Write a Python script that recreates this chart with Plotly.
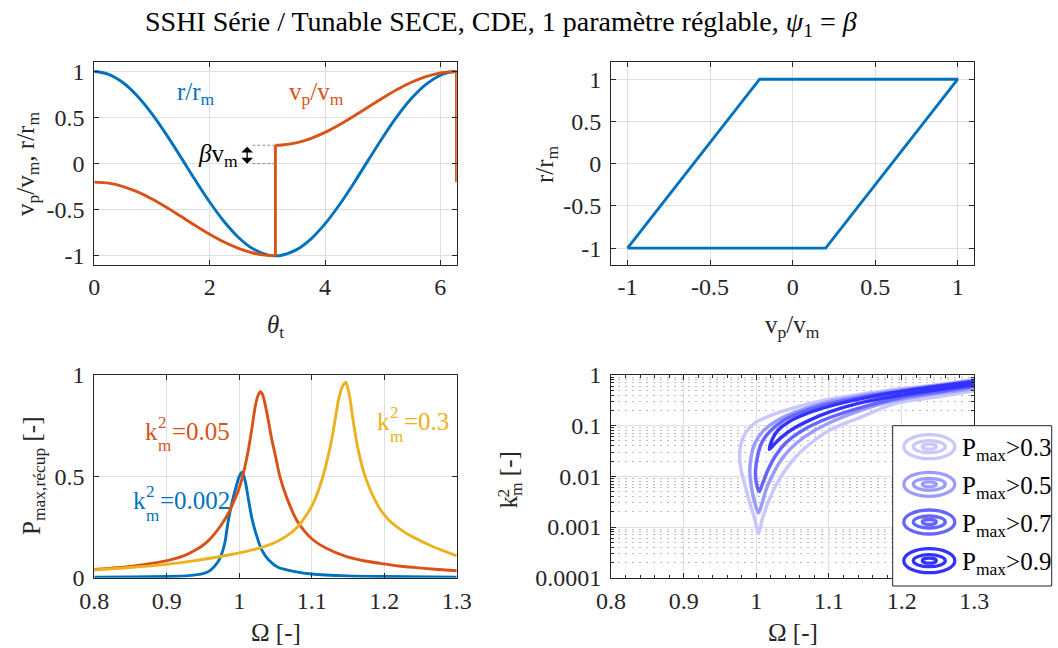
import plotly.graph_objects as go

# ---------------- data ----------------
theta_first = [0.0, 0.25, 0.5, 0.75, 1.0, 1.25, 1.5, 1.75, 2.0, 2.25, 2.5, 2.75, 3.0, 3.14]
r_first = [1.0, 0.969, 0.878, 0.732, 0.540, 0.315, 0.071, -0.178, -0.416, -0.628, -0.801, -0.924, -0.990, -1.0]
vp_first = [-0.2, -0.212, -0.249, -0.307, -0.384, -0.474, -0.572, -0.671, -0.766, -0.851, -0.920, -0.970, -0.996, -1.0]
theta_second = [3.14, 3.25, 3.5, 3.75, 4.0, 4.25, 4.5, 4.75, 5.0, 5.25, 5.5, 5.75, 6.0, 6.15, 6.28]
r_second = [-1.0, -0.994, -0.936, -0.821, -0.654, -0.446, -0.211, 0.038, 0.284, 0.512, 0.709, 0.861, 0.960, 0.991, 1.0]
vp_second = [0.2, 0.202, 0.226, 0.272, 0.339, 0.422, 0.516, 0.615, 0.713, 0.805, 0.883, 0.944, 0.984, 0.996, 1.0]
beta = 0.2
theta_switch = [3.14, 6.28]

vp_loop = [-1.0, -0.2, 1.0, 0.2, -1.0]
r_loop = [-1.0, 1.0, 1.0, -1.0, -1.0]

omega_k002 = [0.80, 0.85, 0.90, 0.93, 0.95, 0.96, 0.97, 0.975, 0.98, 0.985, 0.99, 0.995, 1.0, 1.004,
              1.008, 1.012, 1.017, 1.022, 1.031, 1.04, 1.054, 1.077, 1.10, 1.15, 1.20, 1.30]
p_k002 = [0.003, 0.004, 0.006, 0.010, 0.020, 0.036, 0.075, 0.11, 0.17, 0.285, 0.37, 0.44, 0.50, 0.52,
          0.48, 0.40, 0.30, 0.23, 0.137, 0.09, 0.05, 0.03, 0.018, 0.009, 0.006, 0.003]
omega_k005 = [0.80, 0.82, 0.847, 0.87, 0.893, 0.91, 0.925, 0.939, 0.95, 0.962, 0.975, 0.985, 0.993, 0.999,
              1.006, 1.0125, 1.018, 1.022, 1.026, 1.029, 1.032, 1.036, 1.04, 1.045, 1.05, 1.056, 1.065,
              1.079, 1.09, 1.102, 1.12, 1.148, 1.17, 1.194, 1.22, 1.24, 1.27, 1.30]
p_k005 = [0.041, 0.046, 0.054, 0.065, 0.079, 0.093, 0.11, 0.135, 0.16, 0.20, 0.26, 0.318, 0.38, 0.433,
          0.52, 0.63, 0.75, 0.844, 0.90, 0.918, 0.905, 0.85, 0.778, 0.68, 0.60, 0.50, 0.40,
          0.285, 0.23, 0.186, 0.145, 0.104, 0.085, 0.071, 0.058, 0.051, 0.042, 0.034]
omega_k03 = [0.80, 0.85, 0.893, 0.939, 0.985, 1.01, 1.031, 1.05, 1.065, 1.079, 1.09, 1.102, 1.112, 1.12,
             1.128, 1.137, 1.142, 1.147, 1.152, 1.157, 1.163, 1.171, 1.18, 1.194, 1.205, 1.217, 1.23,
             1.24, 1.263, 1.28, 1.30]
p_k03 = [0.038, 0.05, 0.063, 0.084, 0.112, 0.13, 0.15, 0.175, 0.205, 0.245, 0.295, 0.367, 0.46, 0.56,
         0.69, 0.877, 0.94, 0.965, 0.90, 0.778, 0.65, 0.531, 0.44, 0.34, 0.29, 0.252, 0.22,
         0.20, 0.16, 0.135, 0.108]

omega_c03 = [1.30, 1.25, 1.19, 1.15, 1.09, 1.04, 1.015, 0.997, 0.986, 0.979, 0.977, 0.979, 0.985, 0.991,
             0.998, 1.003, 1.008, 1.016, 1.026, 1.04, 1.055, 1.075, 1.10, 1.14, 1.19, 1.25, 1.30]
k2_c03 = [0.82, 0.64, 0.52, 0.43, 0.31, 0.20, 0.15, 0.11, 0.075, 0.045, 0.025, 0.0134, 0.0063, 0.003,
          0.0014, 0.00075, 0.0014, 0.003, 0.0063, 0.0134, 0.025, 0.045, 0.08, 0.14, 0.27, 0.37, 0.49]
omega_c05 = [1.30, 1.25, 1.20, 1.14, 1.10, 1.06, 1.03, 1.01, 0.998, 0.993, 0.991, 0.993, 0.998, 1.003,
             1.008, 1.015, 1.026, 1.038, 1.055, 1.08, 1.12, 1.18, 1.24, 1.30]
k2_c05 = [0.79, 0.63, 0.51, 0.38, 0.30, 0.20, 0.13, 0.08, 0.045, 0.025, 0.0134, 0.0063, 0.003, 0.0019,
          0.003, 0.0063, 0.0134, 0.025, 0.045, 0.08, 0.15, 0.29, 0.41, 0.54]
omega_c07 = [1.30, 1.22, 1.16, 1.10, 1.06, 1.035, 1.02, 1.008, 1.002, 0.999, 1.0, 1.004, 1.009, 1.016,
             1.026, 1.04, 1.06, 1.09, 1.14, 1.20, 1.25, 1.30]
k2_c07 = [0.76, 0.53, 0.40, 0.27, 0.18, 0.12, 0.08, 0.048, 0.026, 0.0134, 0.0075, 0.005, 0.0075, 0.0134,
          0.025, 0.045, 0.075, 0.125, 0.22, 0.36, 0.46, 0.60]
omega_c09 = [1.30, 1.25, 1.19, 1.14, 1.10, 1.07, 1.045, 1.03, 1.022, 1.018, 1.024, 1.034, 1.05, 1.075,
             1.10, 1.14, 1.19, 1.25, 1.30]
k2_c09 = [0.74, 0.60, 0.45, 0.33, 0.24, 0.175, 0.12, 0.082, 0.054, 0.034, 0.042, 0.058, 0.086, 0.132,
          0.185, 0.275, 0.38, 0.51, 0.645]
contour_levels = ["0.3", "0.5", "0.7", "0.9"]

# ---------------- style ----------------
FONT = "Liberation Serif"
BLUE, ORANGE, YELLOW = "#0072BD", "#D95319", "#EDB120"
CCOL = ["#C8C8FF", "#9C9CFF", "#6666FF", "#3333FF"]
DARK = "#262626"
W, H = 1058, 648
LW = 2.9


def px(x):
    return x / W


def py(y):
    return 1 - y / H


fig = go.Figure()

# panel 1
fig.add_trace(go.Scatter(x=theta_first + theta_second[1:], y=r_first + r_second[1:], mode="lines",
                         line=dict(color=BLUE, width=LW, shape="spline", smoothing=1.0),
                         xaxis="x", yaxis="y"))
fig.add_trace(go.Scatter(x=theta_first, y=vp_first, mode="lines",
                         line=dict(color=ORANGE, width=LW, shape="spline", smoothing=1.0), xaxis="x", yaxis="y"))
fig.add_trace(go.Scatter(x=[theta_switch[0], theta_switch[0]], y=[vp_first[-1], vp_second[0]], mode="lines",
                         line=dict(color=ORANGE, width=LW), xaxis="x", yaxis="y"))
fig.add_trace(go.Scatter(x=theta_second, y=vp_second, mode="lines",
                         line=dict(color=ORANGE, width=LW, shape="spline", smoothing=1.0), xaxis="x", yaxis="y"))
fig.add_trace(go.Scatter(x=[theta_switch[1], theta_switch[1]], y=[vp_second[-1], vp_first[0]], mode="lines",
                         line=dict(color=ORANGE, width=LW), xaxis="x", yaxis="y"))

# panel 2
fig.add_trace(go.Scatter(x=vp_loop, y=r_loop, mode="lines", line=dict(color=BLUE, width=LW),
                         xaxis="x2", yaxis="y2"))

# panel 3
for om, p, c in [(omega_k002, p_k002, BLUE), (omega_k005, p_k005, ORANGE), (omega_k03, p_k03, YELLOW)]:
    fig.add_trace(go.Scatter(x=om, y=p, mode="lines", line=dict(color=c, width=LW, shape="spline", smoothing=0.7),
                             xaxis="x3", yaxis="y3"))

# panel 4
for om, k2, c in [(omega_c03, k2_c03, CCOL[0]), (omega_c05, k2_c05, CCOL[1]),
                  (omega_c07, k2_c07, CCOL[2]), (omega_c09, k2_c09, CCOL[3])]:
    fig.add_trace(go.Scatter(x=om, y=k2, mode="lines", line=dict(color=c, width=3.5, shape="spline", smoothing=0.9),
                             xaxis="x4", yaxis="y4"))


def axis(domain, anchor, rng, tickvals=None, ticktext=None, ax_type="linear", standoff=4):
    d = dict(domain=domain, anchor=anchor, range=rng, type=ax_type, automargin=False,
             showline=True, linecolor=DARK, linewidth=1, mirror="allticks",
             ticks="inside", ticklen=5, tickcolor=DARK, tickwidth=1,
             showgrid=True, gridcolor="#DFDFDF", gridwidth=1, zeroline=False,
             tickfont=dict(family=FONT, size=24, color=DARK), ticklabelstandoff=standoff)
    if tickvals is not None:
        d["tickmode"] = "array"
        d["tickvals"] = tickvals
        d["ticktext"] = ticktext if ticktext is not None else [str(v) for v in tickvals]
    return d


XL = [px(94.3), px(456.7)]
XR = [px(611.0), px(974.3)]
YT = [py(265.0), py(62.3)]
YB = [py(577.7), py(375.0)]

minor_log = [m * 10 ** e for e in range(-4, 0) for m in range(2, 10)]
TICKS5 = [-1, -0.5, 0, 0.5, 1]
TICKS5_TXT = ["-1", "-0.5", "0", "0.5", "1"]
OM_TICKS = [0.8, 0.9, 1.0, 1.1, 1.2, 1.3]
OM_TXT = ["0.8", "0.9", "1", "1.1", "1.2", "1.3"]

fig.update_layout(
    width=W, height=H, margin=dict(l=0, r=0, t=0, b=0, autoexpand=False),
    paper_bgcolor="white", plot_bgcolor="white", showlegend=False,
    font=dict(family=FONT, color=DARK),
    xaxis=axis(XL, "y", [0, 6.2832], [0, 2, 4, 6], ["0", "2", "4", "6"], standoff=0),
    yaxis=axis(YT, "x", [-1.1, 1.1], TICKS5, TICKS5_TXT),
    xaxis2=axis(XR, "y2", [-1.1, 1.1], TICKS5, TICKS5_TXT, standoff=0),
    yaxis2=axis(YT, "x2", [-1.2, 1.2], TICKS5, TICKS5_TXT),
    xaxis3=axis(XL, "y3", [0.8, 1.3], OM_TICKS, OM_TXT, standoff=1),
    yaxis3=axis(YB, "x3", [0, 1], [0, 0.5, 1], ["0", "0.5", "1"]),
    xaxis4=axis(XR, "y4", [0.8, 1.3], OM_TICKS, OM_TXT, standoff=1),
    yaxis4=axis(YB, "x4", [-4, 0], [1e-4, 1e-3, 1e-2, 1e-1, 1], ["0.0001", "0.001", "0.01", "0.1", "1"], ax_type="log"),
)
fig.layout.xaxis4.minor = dict(dtick=0.02, ticks="inside", ticklen=3, tickcolor=DARK, showgrid=False)
fig.layout.yaxis4.minor = dict(tickmode="array", tickvals=minor_log, ticks="inside", ticklen=3, tickcolor=DARK,
                               showgrid=True, gridcolor="#BDBDBD", griddash="2px,5px", gridwidth=1)

ann = []


def text(x, y, s, size=25, color=DARK, xref="paper", yref="paper", angle=0, xanchor="center", yanchor="middle"):
    ann.append(dict(x=x, y=y, xref=xref, yref=yref, text=s, showarrow=False, textangle=angle,
                    xanchor=xanchor, yanchor=yanchor, font=dict(family=FONT, size=size, color=color)))


def k2_label(x_left, baseline, value, color):
    # k with stacked superscript 2 and subscript m (TeX-like), built from separate text pieces
    text(px(x_left), py(baseline - 7.5), "k", color=color, xanchor="left")
    text(px(x_left + 13), py(baseline - 17), "2", size=17, color=color, xanchor="left")
    text(px(x_left + 13), py(baseline + 7), "m", size=17, color=color, xanchor="left")
    text(px(x_left + 27), py(baseline - 7.5), "=" + value, color=color, xanchor="left")


# title
text(px(501), py(24), "SSHI Série / Tunable SECE, CDE, 1 paramètre réglable, <i>ψ</i><sub>1</sub> = <i>β</i>",
     size=28, color="black")

# axis titles
text(px(275.5), py(326), "<i>θ</i><sub>t</sub>")
text(px(27), py(164), "v<sub>p</sub>/v<sub>m</sub>, r/r<sub>m</sub>", angle=-90)
text(px(792.7), py(326), "v<sub>p</sub>/v<sub>m</sub>")
text(px(546), py(164), "r/r<sub>m</sub>", angle=-90)
text(px(275.5), py(632), "Ω [-]")
text(px(33), py(476), "P<sub>max,récup</sub> [-]", angle=-90)
text(px(792.7), py(632), "Ω [-]")
text(px(509.5), py(480), "k<sub>m</sub> [-]", angle=-90)
text(px(502.5), py(493), "2", size=17.5, angle=-90)

# panel 1 labels
text(1.77, 0.76, "r/r<sub>m</sub>", color=BLUE, xref="x", yref="y")
text(3.85, 0.76, "v<sub>p</sub>/v<sub>m</sub>", color=ORANGE, xref="x", yref="y")
text(2.52, 0.09, "<i>β</i>v<sub>m</sub>", color="black", xref="x", yref="y", xanchor="right")
ann.append(dict(x=2.65, y=0.0, ax=2.65, ay=beta, xref="x", yref="y", axref="x", ayref="y", text="",
                showarrow=True, arrowhead=1, arrowside="end+start", arrowsize=1.5, arrowwidth=1.3,
                arrowcolor="black"))

# panel 3 labels
k2_label(143, 439, "0.05", ORANGE)
k2_label(131, 508, "0.002", BLUE)
k2_label(375, 429, "0.3", YELLOW)

shapes = []
# dashed guide lines for beta
for yv in [beta, 0.0]:
    shapes.append(dict(type="line", xref="x", yref="y", x0=2.74, x1=theta_switch[0], y0=yv, y1=yv,
                       line=dict(color="#8C8C8C", width=1, dash="3px,2px")))

# legend for panel 4
shapes.append(dict(type="rect", xref="paper", yref="paper", x0=px(892.7), x1=px(1051.7), y0=py(586), y1=py(425.7),
                   line=dict(color=DARK, width=1), fillcolor="white", layer="above"))
centers = [446.7, 484.3, 522.0, 560.7]
for cy, col, lev in zip(centers, CCOL, contour_levels):
    for w, h in [(51, 24), (32, 12), (14, 5)]:
        shapes.append(dict(type="circle", xref="paper", yref="paper", x0=px(929.3 - w / 2), x1=px(929.3 + w / 2),
                           y0=py(cy + h / 2), y1=py(cy - h / 2), line=dict(color=col, width=3.3), layer="above"))
    text(px(960), py(cy + 3), "P<sub>max</sub>&gt;" + lev, size=25, color="black", xanchor="left")

fig.update_layout(annotations=ann, shapes=shapes)
fig.write_html("out.html", config={"displayModeBar": False},
               post_script="document.body.style.margin='0px';document.body.style.overflow='hidden';")
